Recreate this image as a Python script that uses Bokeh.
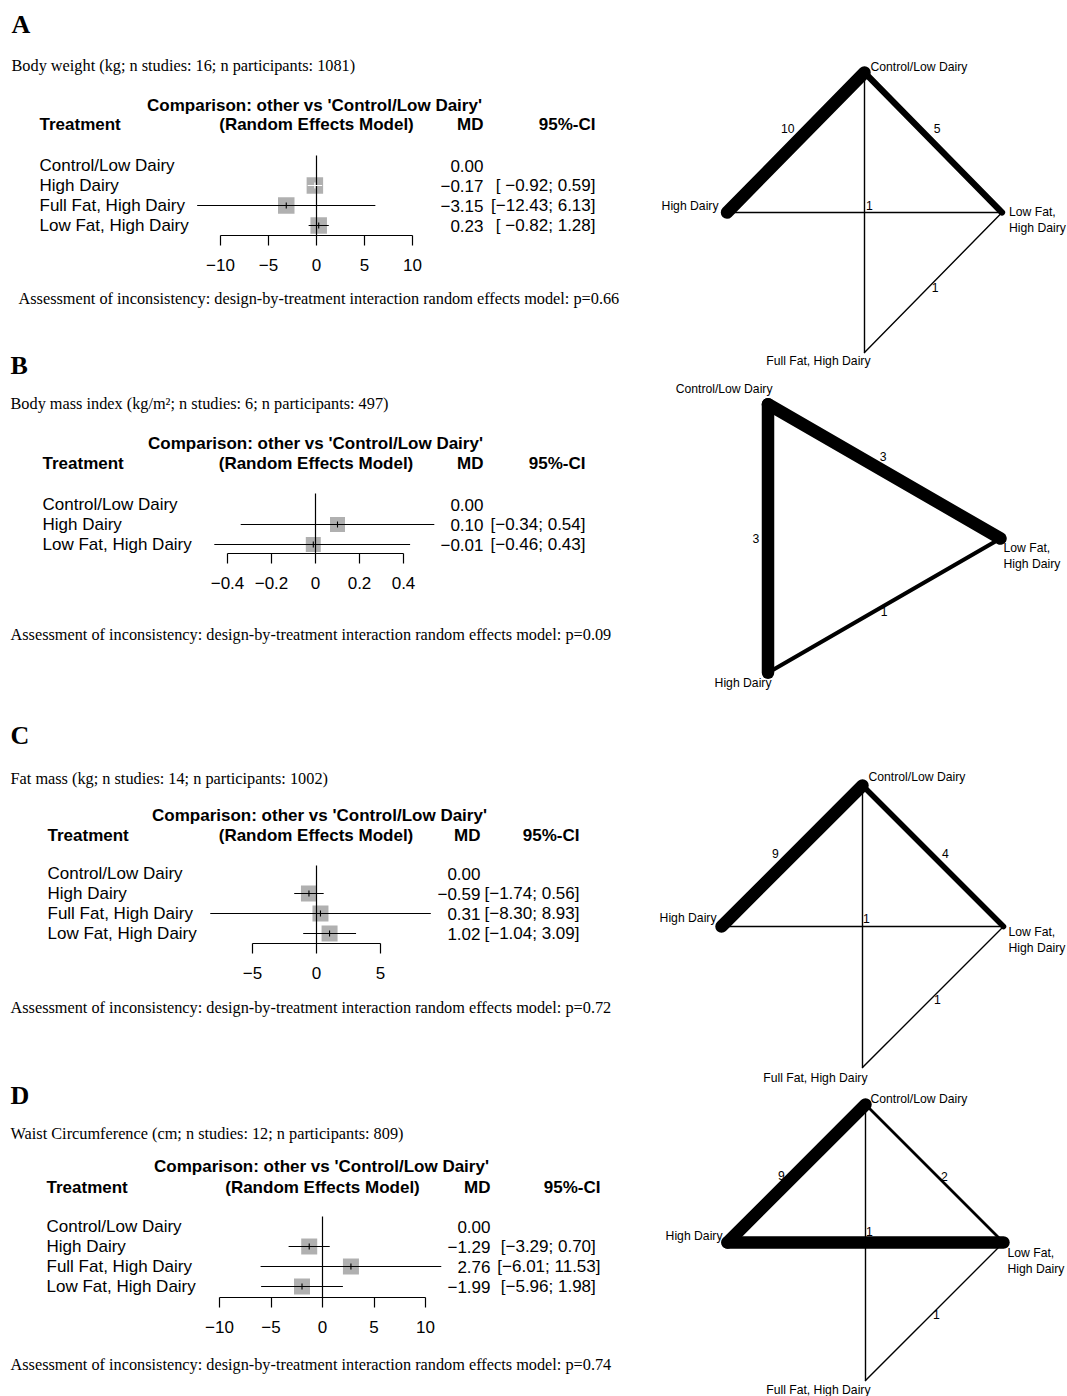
import math
from bokeh.plotting import figure
from bokeh.layouts import row, column
from bokeh.models import Range1d, LinearAxis, FixedTicker
from bokeh.core.properties import value
from bokeh.embed import file_html
from bokeh.resources import INLINE

# ------------------------------------------------------------------ data
letters = ["A", "B", "C", "D"]
outcomes = [
    "Body weight (kg; n studies: 16; n participants: 1081)",
    "Body mass index (kg/m\u00b2; n studies: 6; n participants: 497)",
    "Fat mass (kg; n studies: 14; n participants: 1002)",
    "Waist Circumference (cm; n studies: 12; n participants: 809)",
]
p_incons = ["0.66", "0.09", "0.72", "0.74"]
comparison_title = "Comparison: other vs 'Control/Low Dairy'"
model_title = "(Random Effects Model)"

treat_A = ["Control/Low Dairy", "High Dairy", "Full Fat, High Dairy", "Low Fat, High Dairy"]
md_A = [0.00, -0.17, -3.15, 0.23]
lo_A = [None, -0.92, -12.43, -0.82]
hi_A = [None, 0.59, 6.13, 1.28]
ticks_A = [-10, -5, 0, 5, 10]
ticklab_A = ["\u221210", "\u22125", "0", "5", "10"]

treat_B = ["Control/Low Dairy", "High Dairy", "Low Fat, High Dairy"]
md_B = [0.00, 0.10, -0.01]
lo_B = [None, -0.34, -0.46]
hi_B = [None, 0.54, 0.43]
ticks_B = [-0.4, -0.2, 0, 0.2, 0.4]
ticklab_B = ["\u22120.4", "\u22120.2", "0", "0.2", "0.4"]

treat_C = ["Control/Low Dairy", "High Dairy", "Full Fat, High Dairy", "Low Fat, High Dairy"]
md_C = [0.00, -0.59, 0.31, 1.02]
lo_C = [None, -1.74, -8.30, -1.04]
hi_C = [None, 0.56, 8.93, 3.09]
ticks_C = [-5, 0, 5]
ticklab_C = ["\u22125", "0", "5"]

treat_D = ["Control/Low Dairy", "High Dairy", "Full Fat, High Dairy", "Low Fat, High Dairy"]
md_D = [0.00, -1.29, 2.76, -1.99]
lo_D = [None, -3.29, -6.01, -5.96]
hi_D = [None, 0.70, 11.53, 1.98]
ticks_D = [-10, -5, 0, 5, 10]
ticklab_D = ["\u221210", "\u22125", "0", "5", "10"]

# network graphs: nodes, edges (from, to), number of studies, shown label
net_nodes_A = ["Control/Low Dairy", "High Dairy", "Full Fat, High Dairy", "Low Fat, High Dairy"]
net_from_A = ["Control/Low Dairy", "Control/Low Dairy", "Control/Low Dairy", "High Dairy", "Low Fat, High Dairy"]
net_to_A = ["High Dairy", "Low Fat, High Dairy", "Full Fat, High Dairy", "Low Fat, High Dairy", "Full Fat, High Dairy"]
net_n_A = [10, 5, 1, 1, 1]
net_lab_A = ["10", "5", "1", "1", "1"]

net_nodes_B = ["Control/Low Dairy", "High Dairy", "Low Fat, High Dairy"]
net_from_B = ["Control/Low Dairy", "Control/Low Dairy", "High Dairy"]
net_to_B = ["High Dairy", "Low Fat, High Dairy", "Low Fat, High Dairy"]
net_n_B = [3, 3, 1]
net_lab_B = ["3", "3", "1"]

net_nodes_C = ["Control/Low Dairy", "High Dairy", "Full Fat, High Dairy", "Low Fat, High Dairy"]
net_from_C = ["Control/Low Dairy", "Control/Low Dairy", "Control/Low Dairy", "High Dairy", "Low Fat, High Dairy"]
net_to_C = ["High Dairy", "Low Fat, High Dairy", "Full Fat, High Dairy", "Low Fat, High Dairy", "Full Fat, High Dairy"]
net_n_C = [9, 4, 1, 1, 1]
net_lab_C = ["9", "4", "1", "1", "1"]

net_nodes_D = ["Control/Low Dairy", "High Dairy", "Full Fat, High Dairy", "Low Fat, High Dairy"]
net_from_D = ["Control/Low Dairy", "Control/Low Dairy", "Control/Low Dairy", "High Dairy", "Low Fat, High Dairy"]
net_to_D = ["High Dairy", "Low Fat, High Dairy", "Full Fat, High Dairy", "Low Fat, High Dairy", "Full Fat, High Dairy"]
net_n_D = [9, 2, 1, 9, 1]
net_lab_D = ["9", "2", "1", "", "1"]

# ------------------------------------------------------------------ layout / styles
SANS = "Liberation Sans"
SERIF = "Liberation Serif"
W_LEFT = 638
W_RIGHT = 429
FIG_H = [280, 318, 390, 354, 54]
FRAME_H = [235, 273, 345, 309, 54]
SQ_COLOR = "#b0b0b0"

LAY = [
    dict(fig=0, letter_y=23.5, title_y=65, x0=11, comp_x=314, comp_y=105, head_y=124, lab_x=39, rem_x=316,
         md_x=483, ci_x=595, row0=165, step=20, zero=316, ppu=9.6, vtop=155, sq=16.5),
    dict(fig=1, letter_y=85, title_y=123, x0=10, comp_x=315, comp_y=163, head_y=183, lab_x=42, rem_x=315.5,
         md_x=483, ci_x=585, row0=224, step=20, zero=315, ppu=220, vtop=213, sq=15),
    dict(fig=2, letter_y=137, title_y=180, x0=10, comp_x=319, comp_y=217, head_y=237, lab_x=47, rem_x=315.5,
         md_x=480, ci_x=579, row0=275, step=20, zero=316, ppu=12.8, vtop=267, sq=16),
    dict(fig=3, letter_y=107, title_y=145, x0=10, comp_x=321, comp_y=178, head_y=199, lab_x=46, rem_x=322,
         md_x=490, ci_x=600, row0=238, step=20, zero=322, ppu=10.3, vtop=228, sq=16),
]
ASSESS = [(1, 18, 18), (2, 10, 36), (3, 10, 19), (4, 10, 22)]

NET = [
    dict(cx=864, cy=212, rx=137.5, ry=140,
         node_off=[(6, -6, "left"), (-8.5, -7, "right"), (6, 8, "right"), (7, 0, "left")],
         edge_off=[(-8, -14), (4, -14), (5, -7), (5, -7), (2, 5)]),
    dict(cx=845, cy=538, rx=155, ry=155,
         node_off=[(4.5, -15, "right"), (3.5, 10, "right"), (3, 10, "left")],
         edge_off=[(-12, 0), (-1, -15), (0, 6)]),
    dict(cx=862, cy=926, rx=141, ry=141,
         node_off=[(6, -9, "left"), (-5, -9, "right"), (5, 10, "right"), (5, 6, "left")],
         edge_off=[(-16.5, -2.5), (12.5, -2.5), (4, -8), (4, -8), (4.5, 2.5)]),
    dict(cx=865, cy=1242, rx=138, ry=138,
         node_off=[(5, -6, "left"), (-5, -7, "right"), (5, 9, "right"), (4, 11, "left")],
         edge_off=[(-15, 2), (10, 3), (4, -11), (4, -11), (2, 3)]),
]
NET_FONT = "12.2px"
MAX_EDGE_W = 12.5


def txt(p, x, y, s, size="17px", font=SANS, style="normal", align="left"):
    p.text(x=[x], y=[y], text=[s], text_font=value(font), text_font_size=size,
           text_font_style=style, text_align=align, text_baseline="middle", text_color="black")


def num(v):
    return f"{v:.2f}".replace("-", "\u2212")


def ci_strings(lo, hi):
    los = [num(v) for v in lo if v is not None]
    his = [num(v) for v in hi if v is not None]
    wl = max(len(s) for s in los)
    wh = max(len(s) for s in his)
    out = []
    for l, h in zip(lo, hi):
        if l is None:
            out.append("")
        else:
            out.append("[" + num(l).rjust(wl) + "; " + num(h).rjust(wh) + "]")
    return out


def left_fig(h, fh):
    p = figure(width=W_LEFT, height=h, x_range=Range1d(0, W_LEFT), y_range=Range1d(fh, 0),
               x_axis_type=None, y_axis_type=None, toolbar_location=None, output_backend="svg",
               min_border_left=0, min_border_right=0, min_border_top=0, min_border_bottom=h - fh)
    p.outline_line_color = None
    p.background_fill_color = "white"
    p.border_fill_color = "white"
    return p


def draw_panel(p, L, fh, letter, outcome, treat, md, lo, hi, ticks, ticklab):
    txt(p, L["x0"], L["letter_y"], letter, size="26px", font=SERIF, style="bold")
    txt(p, L["x0"], L["title_y"], outcome, size="16.3px", font=SERIF)
    txt(p, L["comp_x"], L["comp_y"], comparison_title, style="bold", align="center")
    txt(p, L["lab_x"], L["head_y"], "Treatment", style="bold")
    txt(p, L["rem_x"], L["head_y"], model_title, style="bold", align="center")
    txt(p, L["md_x"], L["head_y"], "MD", style="bold", align="right")
    txt(p, L["ci_x"], L["head_y"], "95%-CI", style="bold", align="right")

    n = len(treat)
    ys = [L["row0"] + i * L["step"] for i in range(n)]
    common = dict(text_font=value(SANS), text_font_size="17px", text_baseline="middle", text_color="black")
    p.text(x=[L["lab_x"]] * n, y=ys, text=treat, text_align="left", **common)
    p.text(x=[L["md_x"]] * n, y=ys, text=[num(v) for v in md], text_align="right", **common)
    p.text(x=[L["ci_x"]] * n, y=ys, text=ci_strings(lo, hi), text_align="right", **common)

    # forest part, in effect units
    fx0 = -L["zero"] / L["ppu"]
    fx1 = (W_LEFT - L["zero"]) / L["ppu"]
    p.extra_x_ranges = {"fx": Range1d(fx0, fx1)}

    half = L["sq"] / 2.0 / L["ppu"]
    ex, ey, elo, ehi, ecol = [], [], [], [], []
    for m, l, h, y in zip(md, lo, hi, ys):
        if l is None:
            continue
        ex.append(m)
        ey.append(y)
        elo.append(l)
        ehi.append(h)
        inside = (m - l) <= half and (h - m) <= half
        ecol.append("white" if inside else "black")
    p.rect(x=ex, y=ey, width=L["sq"], height=L["sq"], width_units="screen", height_units="screen",
           fill_color=SQ_COLOR, line_color=None, x_range_name="fx")
    p.segment(x0=[0], y0=[L["vtop"]], x1=[0], y1=[fh], x_range_name="fx",
              line_color="black", line_width=1.2)
    p.segment(x0=elo, y0=ey, x1=ehi, y1=ey, line_color=ecol, line_width=1.1, x_range_name="fx")
    p.segment(x0=ex, y0=[y - 3 for y in ey], x1=ex, y1=[y + 3 for y in ey],
              line_color=ecol, line_width=1.1, x_range_name="fx")

    ax = LinearAxis(x_range_name="fx", bounds=(ticks[0], ticks[-1]),
                    ticker=FixedTicker(ticks=ticks, minor_ticks=[]),
                    major_label_overrides=dict(zip(ticks, ticklab)))
    ax.major_tick_out = 10
    ax.major_tick_in = 0
    ax.minor_tick_out = 0
    ax.minor_tick_in = 0
    ax.major_label_standoff = 13
    ax.major_label_text_font = SANS
    ax.major_label_text_font_size = "17px"
    ax.major_label_text_color = "black"
    ax.axis_line_color = "black"
    ax.axis_line_width = 1.2
    ax.major_tick_line_color = "black"
    ax.major_tick_line_width = 1.2
    p.add_layout(ax, "below")


def draw_network(q, G, nodes, e_from, e_to, e_n, e_lab):
    k = len(nodes)
    pos = {}
    for i, nm in enumerate(nodes):
        ang = math.radians(360 - (k - 1 - i) * 360.0 / k)
        pos[nm] = (G["cx"] + G["rx"] * math.cos(ang), G["cy"] - G["ry"] * math.sin(ang))
    nmax = max(e_n)
    widths = [max(MAX_EDGE_W * v / nmax, 1.4) for v in e_n]
    q.segment(x0=[pos[a][0] for a in e_from], y0=[pos[a][1] for a in e_from],
              x1=[pos[b][0] for b in e_to], y1=[pos[b][1] for b in e_to],
              line_color="black", line_width=widths, line_cap="round")
    lx, ly, lt = [], [], []
    seen = set()
    for a, b, lab, off in zip(e_from, e_to, e_lab, G["edge_off"]):
        if not lab:
            continue
        x = (pos[a][0] + pos[b][0]) / 2 + off[0]
        y = (pos[a][1] + pos[b][1]) / 2 + off[1]
        key = (round(x), round(y), lab)
        if key in seen:
            continue
        seen.add(key)
        lx.append(x)
        ly.append(y)
        lt.append(lab)
    q.text(x=lx, y=ly, text=lt, text_font=value(SANS), text_font_size=NET_FONT,
           text_align="center", text_baseline="middle", text_color="black")
    for nm, off in zip(nodes, G["node_off"]):
        label = nm
        dy = off[1]
        if nm.startswith("Low Fat"):
            label = nm.replace(", ", ",\n")
            dy += 7.5
        q.text(x=[pos[nm][0] + off[0]], y=[pos[nm][1] + dy], text=[label], text_font=value(SANS),
               text_font_size=NET_FONT, text_align=off[2], text_baseline="middle",
               text_color="black", text_line_height=1.2)


# ------------------------------------------------------------------ build
figs = [left_fig(h, fh) for h, fh in zip(FIG_H, FRAME_H)]

panels = [
    (treat_A, md_A, lo_A, hi_A, ticks_A, ticklab_A),
    (treat_B, md_B, lo_B, hi_B, ticks_B, ticklab_B),
    (treat_C, md_C, lo_C, hi_C, ticks_C, ticklab_C),
    (treat_D, md_D, lo_D, hi_D, ticks_D, ticklab_D),
]
for i, (L, pdata) in enumerate(zip(LAY, panels)):
    f = L["fig"]
    draw_panel(figs[f], L, FRAME_H[f], letters[i], outcomes[i], *pdata)

for (f, x, y), pv in zip(ASSESS, p_incons):
    txt(figs[f], x, y,
        "Assessment of inconsistency: design-by-treatment interaction random effects model: p=" + pv,
        size="16.3px", font=SERIF)

TOTAL_H = sum(FIG_H)
net = figure(width=W_RIGHT, height=TOTAL_H, x_range=Range1d(W_LEFT, W_LEFT + W_RIGHT),
             y_range=Range1d(TOTAL_H, 0), x_axis_type=None, y_axis_type=None,
             toolbar_location=None, output_backend="svg",
             min_border_left=0, min_border_right=0, min_border_top=0, min_border_bottom=0)
net.outline_line_color = None
net.background_fill_color = "white"
net.border_fill_color = "white"

networks = [
    (net_nodes_A, net_from_A, net_to_A, net_n_A, net_lab_A),
    (net_nodes_B, net_from_B, net_to_B, net_n_B, net_lab_B),
    (net_nodes_C, net_from_C, net_to_C, net_n_C, net_lab_C),
    (net_nodes_D, net_from_D, net_to_D, net_n_D, net_lab_D),
]
for G, nd in zip(NET, networks):
    draw_network(net, G, *nd)

layout = row(column(*figs, spacing=0), net, spacing=0)
open("out.html", "w").write(file_html(layout, INLINE, title="Network meta-analysis"))
